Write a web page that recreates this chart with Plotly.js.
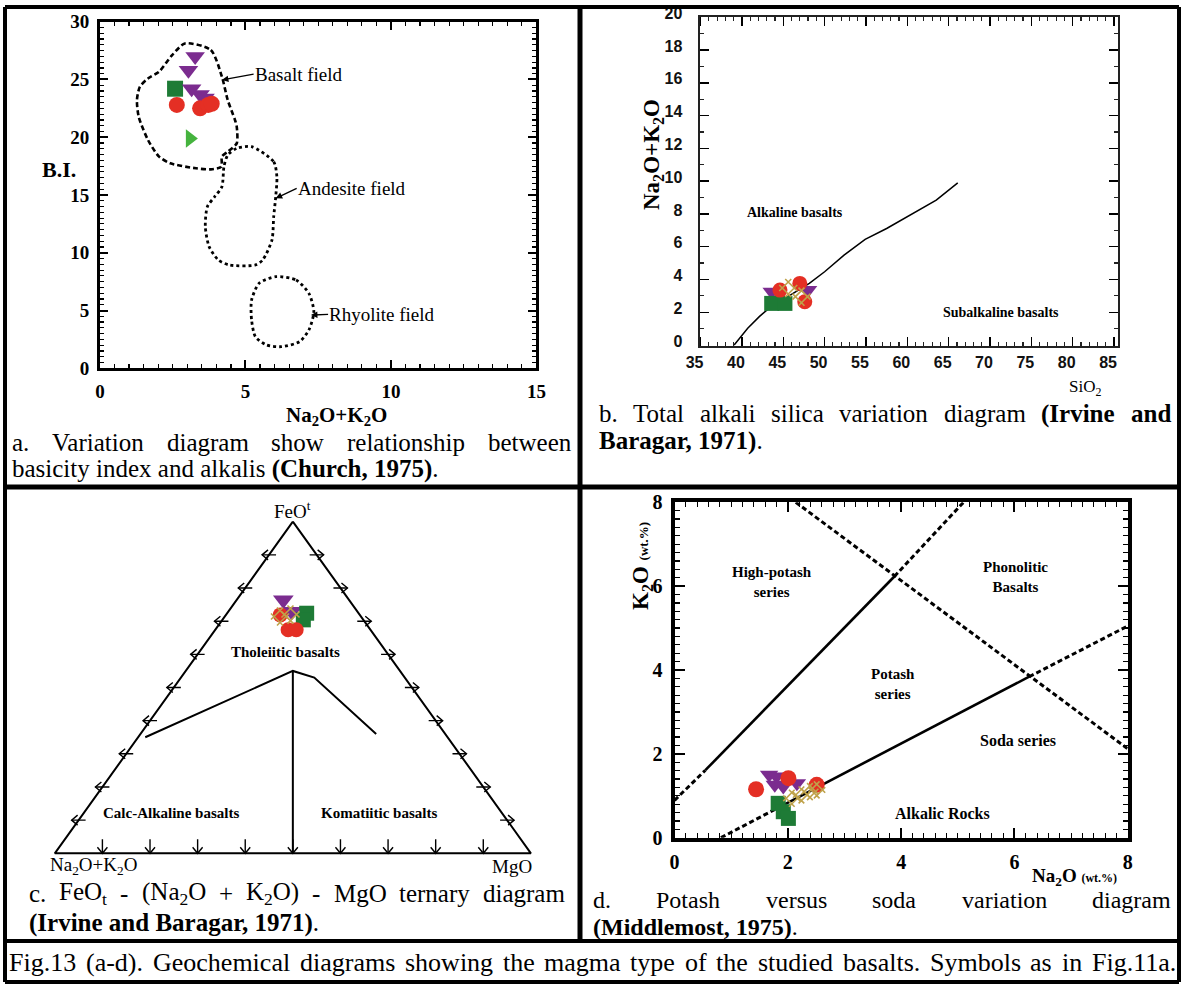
<!DOCTYPE html>
<html><head><meta charset="utf-8">
<script src="https://cdn.plot.ly/plotly-3.0.1.min.js"></script>
<style>html,body{margin:0;padding:0;background:#fff}#chart{width:1183px;height:984px}</style>
</head><body><div id="chart"></div>
<script>
// ================= DATA =================
// Panel a : B.I. vs Na2O+K2O (Church, 1975)
const aPurpleX=[3.27,3.04,3.15,3.44,3.61];
const aPurpleY=[26.98,25.8,24.2,23.7,23.4];
const aGreenX=[2.58];
const aGreenY=[24.2];
const aRedX=[2.64,3.44,3.72,3.84];
const aRedY=[22.8,22.5,22.8,22.9];
const aLimeX=[3.09];
const aLimeY=[19.9];
const basaltX=[2.92,3.81,4.19,4.39,4.64,4.70,4.70,4.39,4.19,4.17,3.81,3.30,2.42,2.03,1.65,1.33,1.27,1.37,1.65,2.03,2.48,2.92];
const basaltY=[28.12,27.55,25.24,23.22,21.49,20.91,19.47,18.75,18.32,17.45,17.22,17.31,17.74,18.32,19.76,21.78,23.22,24.37,25.09,25.67,27.11,28.12];
const andesiteX=[5.21,5.97,6.08,6.04,5.97,5.91,5.59,5.34,4.45,4.07,3.75,3.62,3.69,3.94,4.19,4.26,4.39,4.70,5.21];
const andesiteY=[19.18,17.88,16.58,14.85,13.12,11.10,9.37,8.94,8.94,9.37,10.53,12.26,13.99,14.85,15.72,17.45,18.46,19.04,19.18];
const rhyoliteX=[6.04,6.74,7.18,7.35,7.18,6.86,6.23,5.72,5.34,5.21,5.21,5.47,6.04];
const rhyoliteY=[7.93,7.64,6.49,4.90,3.32,2.31,1.87,2.02,2.74,4.18,5.91,7.36,7.93];
const aFieldNames=['Basalt field','Andesite field','Rhyolite field'];
const aFieldTip=[[4.19,24.95],[6.04,14.71],[7.25,4.61]];
const aFieldTxt=[[5.28,25.47],[6.76,15.58],[7.84,4.66]];

// Panel b : TAS (Irvine and Baragar, 1971)
const bLineX=[39.06,40.7,42.1,43.26,48.15,50.0,52.35,54.9,57.5,60.75,63.5,66.1];
const bLineY=[0,1.02,1.73,2.24,3.76,4.47,5.49,6.45,7.11,8.03,8.84,9.9];
const bPurpleX=[43.6,48.0];
const bPurpleY=[3.25,3.35];
const bGreenX=[43.6,45.2];
const bGreenY=[2.54,2.54];
const bRedX=[44.6,47.0,47.6];
const bRedY=[3.35,3.76,2.64];
const bOliveX=[45.6,47.2];
const bOliveY=[3.48,2.95];

// Panel c : ternary, values in % (A = FeOt, B = Na2O+K2O, C = MgO)
const cBoundA=[35,55,53,36];
const cBoundB=[63.5,22.5,19,14.5];
const cBoundC=[1.5,22.5,28,49.5];
const cDivA=[55,0];
const cDivB=[22.5,50];
const cDivC=[22.5,50];
const cPurpleA=[76.4,72.9], cPurpleB=[13.8,13.8], cPurpleC=[9.8,13.3];
const cGreenA=[72.4,70.4],  cGreenB=[10.9,12.6],  cGreenC=[16.7,17.0];
const cRedA=[71.9,67.4,67.4], cRedB=[16.7,17.3,15.6], cRedC=[11.4,15.3,17.0];
const cOliveA=[71.4,72.0], cOliveB=[17.0,14.5], cOliveC=[11.6,13.5];
const cTickFr=[0.1,0.2,0.3,0.4,0.5,0.6,0.7,0.8,0.9];

// Panel d : K2O vs Na2O (Middlemost, 1975)
const dL1solidX=[0.545,3.88], dL1solidY=[1.61,6.23];
const dL1dashAX=[0,0.545],   dL1dashAY=[0.89,1.61];
const dL1dashBX=[3.88,5.1],  dL1dashBY=[6.23,8.0];
const dL2solidX=[1.97,6.26], dL2solidY=[0.815,3.84];
const dL2dashAX=[0.82,1.97], dL2dashAY=[0,0.815];
const dL2dashBX=[6.26,8.0],  dL2dashBY=[3.84,5.05];
const dL3X=[2.14,8.0], dL3Y=[8.0,2.12];
const dRedX=[1.44,2.01,2.51], dRedY=[1.155,1.42,1.26];
const dPurpleX=[1.67,1.80,1.77,1.92,2.16], dPurpleY=[1.50,1.46,1.26,1.22,1.30];
const dGreenX=[1.83,1.92,2.01], dGreenY=[0.82,0.62,0.46];
const dOliveX=[2.07,2.24,2.39,2.51], dOliveY=[0.94,1.02,1.10,1.14];

// ================= HELPERS =================
const W=1183,H=984;
const FS='"Liberation Serif","Times New Roman",serif';
const SANS='"Liberation Sans Narrow","Liberation Sans",Arial,sans-serif';
const COL={purple:'#7B2C8F',green:'#1E7B36',red:'#E42F24',lime:'#45B33E',olive:'#BFA24A'};
const px=v=>v/W, py=v=>1-v/H;

const traces=[];
function mk(x,y,sym,color,size,xa,ya,extra){
  const m={symbol:sym,color:color,size:size,line:{width:0}};
  if(extra) Object.assign(m,extra);
  traces.push({type:'scatter',mode:'markers',x:x,y:y,xaxis:xa,yaxis:ya,marker:m,hoverinfo:'skip',cliponaxis:false});
}
function ln(x,y,xa,ya,width,dash,shape){
  traces.push({type:'scatter',mode:'lines',x:x,y:y,xaxis:xa,yaxis:ya,connectgaps:false,
    line:{color:'#000',width:width,dash:dash||'solid',shape:shape||'linear',smoothing:0.7},hoverinfo:'skip',cliponaxis:false});
}
const oliveExtra={angle:45,line:{width:1.6,color:COL.olive}};

// ---- panel a
ln(basaltX,basaltY,'x','y',2.6,'5px,3px','spline');
ln(andesiteX,andesiteY,'x','y',2.8,'dot','spline');
ln(rhyoliteX,rhyoliteY,'x','y',2.8,'dot','spline');
mk(aGreenX,aGreenY,'square',COL.green,16,'x','y');
mk(aPurpleX,aPurpleY,'triangle-down',COL.purple,17,'x','y');
mk(aRedX,aRedY,'circle',COL.red,16,'x','y');
mk(aLimeX,aLimeY,'triangle-right',COL.lime,16,'x','y');

// ---- panel b
ln(bLineX,bLineY,'x2','y2',1.5);
mk(bPurpleX,bPurpleY,'triangle-down',COL.purple,16,'x2','y2');
mk(bGreenX,bGreenY,'square',COL.green,15,'x2','y2');
mk(bRedX,bRedY,'circle',COL.red,15,'x2','y2');
mk(bOliveX,bOliveY,'hash-open',COL.olive,17,'x2','y2',oliveExtra);

// ---- panel c (ternary projected onto x3/y3)
const cX0=54.8,cX1=530.9,cY0=853.3,cY1=521.7,cp=0.03;
const cxw=cX1-cX0, cyh=cY0-cY1;
const tX=(A,B,C)=>(C+A/2)/(A+B+C), tY=(A,B,C)=>A/(A+B+C);
const proj=(A,B,C)=>({x:A.map((a,i)=>tX(a,B[i],C[i])),y:A.map((a,i)=>tY(a,B[i],C[i]))});
const tri=proj([100,0,0,100],[0,100,0,0],[0,0,100,0]);
ln(tri.x,tri.y,'x3','y3',2);
const bnd=proj(cBoundA,cBoundB,cBoundC); ln(bnd.x,bnd.y,'x3','y3',2);
const dv=proj(cDivA,cDivB,cDivC); ln(dv.x,dv.y,'x3','y3',2);
const chX=[],chY=[];
const uX=v=>v/cxw, uY=v=>v/cyh;
function chevron(x,y,dx,dy){
  const qx=-dy,qy=dx,L=6,Wd=5,S=14;
  chX.push(x+uX(dx*L+qx*Wd),x,x+uX(dx*L-qx*Wd),null,x,x+uX(dx*S),null);
  chY.push(y+uY(dy*L+qy*Wd),y,y+uY(dy*L-qy*Wd),null,y,y+uY(dy*S),null);
}
cTickFr.forEach(f=>{
  chevron(tX(100*(1-f),100*f,0)-uX(7),tY(100*(1-f),100*f,0),1,0);
  chevron(tX(100*(1-f),0,100*f)+uX(7),tY(100*(1-f),0,100*f),-1,0);
  chevron(tX(0,100*(1-f),100*f),0,0,1);
});
ln(chX,chY,'x3','y3',1.4);
let p;
p=proj(cPurpleA,cPurpleB,cPurpleC); mk(p.x,p.y,'triangle-down',COL.purple,18,'x3','y3');
p=proj(cGreenA,cGreenB,cGreenC); mk(p.x,p.y,'square',COL.green,15,'x3','y3');
p=proj(cRedA,cRedB,cRedC); mk(p.x,p.y,'circle',COL.red,15,'x3','y3');
p=proj(cOliveA,cOliveB,cOliveC); mk(p.x,p.y,'hash-open',COL.olive,17,'x3','y3',oliveExtra);

// ---- panel d
ln(dL1solidX,dL1solidY,'x4','y4',2.6);
ln(dL1dashAX,dL1dashAY,'x4','y4',3,'5px,3px');
ln(dL1dashBX,dL1dashBY,'x4','y4',3,'5px,3px');
ln(dL2solidX,dL2solidY,'x4','y4',2.6);
ln(dL2dashAX,dL2dashAY,'x4','y4',3,'5px,3px');
ln(dL2dashBX,dL2dashBY,'x4','y4',3,'5px,3px');
ln(dL3X,dL3Y,'x4','y4',3,'5px,3px');
mk(dPurpleX,dPurpleY,'triangle-down',COL.purple,16,'x4','y4');
mk(dRedX,dRedY,'circle',COL.red,16,'x4','y4');
mk(dGreenX,dGreenY,'square',COL.green,15,'x4','y4');
mk(dOliveX,dOliveY,'hash-open',COL.olive,16,'x4','y4',oliveExtra);

// ================= AXES =================
function ax(dom,range,dtick,tick0,o){
  const a={domain:dom,range:range,dtick:dtick,tick0:tick0,showline:true,linecolor:'#000',mirror:'ticks',
    ticks:'inside',tickcolor:'#000',showgrid:false,zeroline:false,fixedrange:true};
  return Object.assign(a,o);
}
const layout={
  width:W,height:H,margin:{l:0,r:0,t:0,b:0},paper_bgcolor:'#fff',plot_bgcolor:'rgba(0,0,0,0)',showlegend:false,
  xaxis:ax([px(100),px(536.4)],[0,15],5,0,{anchor:'y',linewidth:3,ticklen:8,tickwidth:2,
    minor:{dtick:0.5,ticklen:4,tickwidth:1.2,ticks:'inside',tickcolor:'#000'},
    tickfont:{family:FS,size:19,weight:700,color:'#000'},ticklabelstandoff:4}),
  yaxis:ax([py(368.3),py(21.7)],[0,30],5,0,{anchor:'x',linewidth:3,ticklen:8,tickwidth:2,
    minor:{dtick:0.5,ticklen:4,tickwidth:1.2,ticks:'inside',tickcolor:'#000'},
    tickfont:{family:FS,size:19,weight:700,color:'#000'},ticklabelstandoff:4}),
  xaxis2:ax([px(699.5),px(1118)],[34.87,85.48],5,35,{anchor:'y2',linewidth:2,linecolor:'#222',ticklen:9,tickwidth:1.5,
    minor:{dtick:1,ticklen:4,tickwidth:1.2,ticks:'inside',tickcolor:'#222'},
    tickfont:{family:SANS,size:16,weight:700,color:'#111'},ticklabelstandoff:1,ticklabelshift:-6}),
  yaxis2:ax([py(346),py(17.3)],[-0.06,20],2,0,{anchor:'x2',linewidth:2,linecolor:'#222',ticklen:9,tickwidth:1.5,
    minor:{dtick:1,ticklen:4,tickwidth:1.2,ticks:'inside',tickcolor:'#222'},
    tickfont:{family:SANS,size:16,weight:700,color:'#111'},ticklabelstandoff:12,ticklabelshift:-4}),
  xaxis3:{domain:[px(cX0-cp*cxw),px(cX1+cp*cxw)],range:[-cp,1+cp],visible:false,anchor:'y3',fixedrange:true},
  yaxis3:{domain:[py(cY0+cp*cyh),py(cY1-cp*cyh)],range:[-cp,1+cp],visible:false,anchor:'x3',fixedrange:true},
  xaxis4:ax([px(674.5),px(1127.8)],[0,8],2,0,{anchor:'y4',linewidth:4,ticklen:10,tickwidth:2,
    minor:{dtick:0.2,ticklen:5,tickwidth:1.2,ticks:'inside',tickcolor:'#000'},
    tickfont:{family:FS,size:20,weight:700,color:'#000'},ticklabelstandoff:3}),
  yaxis4:ax([py(837.7),py(502.3)],[0,8],2,0,{anchor:'x4',linewidth:4,ticklen:10,tickwidth:2,
    minor:{dtick:0.2,ticklen:5,tickwidth:1.2,ticks:'inside',tickcolor:'#000'},
    tickfont:{family:FS,size:20,weight:700,color:'#000'},ticklabelstandoff:4}),
  shapes:[],annotations:[]
};
const S=layout.shapes, A=layout.annotations;
const bl=(x0,y0,x1,y1,w)=>S.push({type:'line',xref:'paper',yref:'paper',x0:px(x0),y0:py(y0),x1:px(x1),y1:py(y1),line:{color:'#000',width:w}});
bl(5,7,1179,7,4); bl(5,7,5,982,4); bl(1179,7,1179,982,4); bl(5,982,1179,982,4);
bl(580,7,580,941,5); bl(5,487,1179,487,5); bl(5,941,1179,941,4);

function txt(t,x,y,size,o){A.push(Object.assign({text:t,xref:'paper',yref:'paper',x:px(x),y:py(y),xanchor:'center',yanchor:'middle',showarrow:false,
  borderpad:0,font:{family:FS,size:size,color:'#000'}},o||{}));}
function dtxt(t,xa,ya,x,y,size,o){A.push(Object.assign({text:t,xref:xa,yref:ya,x:x,y:y,xanchor:'center',yanchor:'middle',showarrow:false,
  borderpad:0,font:{family:FS,size:size,color:'#000'}},o||{}));}
const cv=document.createElement('canvas').getContext('2d');
function measure(word,size){
  let w=0,bold=false,small=false,m; const re=/<(\/?)(b|sub|sup)>|([^<]+)/g;
  while((m=re.exec(word))){
    if(m[3]!==undefined){cv.font=(bold?'bold ':'')+(small?size*0.7:size)+'px "Liberation Serif"';w+=cv.measureText(m[3]).width;}
    else if(m[2]==='b') bold=!m[1]; else small=!m[1];
  }
  return w;
}
function justify(words,x0,x1,y,size){
  const ws=words.map(w=>measure(w,size)); const tot=ws.reduce((s,v)=>s+v,0);
  const gap=(x1-x0-tot)/(words.length-1); let x=x0;
  words.forEach((w,i)=>{txt(w,x,y,size,{xanchor:'left'}); x+=ws[i]+gap;});
}

// ---- panel a labels
txt('<b>B.I.</b>',59,170,22);
txt('<b>Na<sub>2</sub>O+K<sub>2</sub>O</b>',336,416,21);
aFieldNames.forEach((n,i)=>{
  A.push({xref:'x',yref:'y',axref:'x',ayref:'y',x:aFieldTip[i][0],y:aFieldTip[i][1],ax:aFieldTxt[i][0],ay:aFieldTxt[i][1],
    text:n,xanchor:'left',yanchor:'middle',borderpad:0,font:{family:FS,size:19,color:'#000'},
    showarrow:true,arrowhead:2,arrowsize:1,arrowwidth:1.3,arrowcolor:'#000',standoff:0});
});

// ---- panel b labels
txt('<b>Na<sub>2</sub>O+K<sub>2</sub>O</b>',653,155,23,{textangle:-90});
txt('SiO<sub>2</sub>',1085,388,17);
dtxt('<b>Alkaline basalts</b>','x2','y2',46.4,8.06,14);
dtxt('<b>Subalkaline basalts</b>','x2','y2',71.3,2.01,14);

// ---- panel c labels
txt('FeO<sup>t</sup>',292,510,19);
txt('<b>Tholeiitic basalts</b>',285,652,15);
txt('<b>Calc-Alkaline basalts</b>',171,813,15);
txt('<b>Komatiitic basalts</b>',379,813,15);
txt('Na<sub>2</sub>O+K<sub>2</sub>O',93.5,866,19);
txt('MgO',512,866,19);

// ---- panel d labels
txt('<b>K<sub>2</sub>O</b> <b><span style="font-size:13px">(wt.%)</span></b>',642,566,23,{textangle:-90});
txt('<b>Na<sub>2</sub>O</b> <b><span style="font-size:12px">(wt.%)</span></b>',1118,877,19,{xanchor:'right'});
dtxt('<b>High-potash<br>series</b>','x4','y4',1.72,6.1,15);
dtxt('<b>Phonolitic<br>Basalts</b>','x4','y4',6.02,6.22,15);
dtxt('<b>Potash<br>series</b>','x4','y4',3.85,3.66,15);
dtxt('<b>Soda series</b>','x4','y4',6.06,2.32,16);
dtxt('<b>Alkalic Rocks</b>','x4','y4',4.73,0.58,16);

// ---- captions
const CS=25;
justify(['a.','Variation','diagram','show','relationship','between'],11,570,442,CS);
txt('basicity index and alkalis <b>(Church, 1975)</b>.',11,469,CS,{xanchor:'left'});
justify(['b.','Total','alkali','silica','variation','diagram','<b>(Irvine</b>','<b>and</b>'],598,1170,414,CS);
txt('<b>Baragar, 1971)</b>.',598,441,CS,{xanchor:'left'});
justify(['c.','FeO<sub>t</sub>','-','(Na<sub>2</sub>O','+','K<sub>2</sub>O)','-','MgO','ternary','diagram'],28,564,893,CS);
txt('<b>(Irvine and Baragar, 1971)</b>.',28,923,CS,{xanchor:'left'});
justify(['d.','Potash','versus','soda','variation','diagram'],592,1170,900,24);
txt('<b>(Middlemost, 1975)</b>.',592,927,24,{xanchor:'left'});
justify('Fig.13 (a-d). Geochemical diagrams showing the magma type of the studied basalts. Symbols as in Fig.11a.'.split(' '),8,1175,962,26);

Plotly.newPlot('chart',traces,layout,{staticPlot:true,displayModeBar:false});
</script>
</body></html>
